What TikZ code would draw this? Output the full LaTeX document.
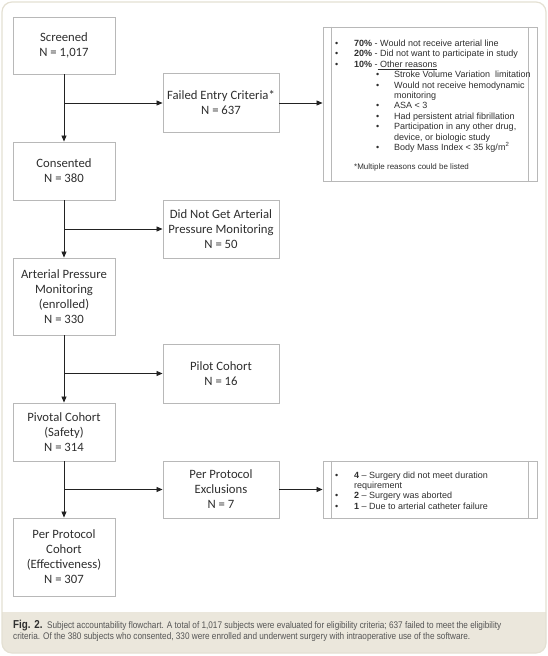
\documentclass[tikz,border=0pt]{standalone}
\usepackage{fontspec}
\usetikzlibrary{arrows.meta}
\newfontfamily\boxfont{Carlito}
\newfontfamily\notefont{Liberation Sans}
\newfontfamily\capfont[FakeStretch=0.855]{Liberation Sans}
\definecolor{txt}{HTML}{2E2E2E}
\definecolor{boxline}{HTML}{B8B8B8}
\definecolor{connc}{HTML}{222222}
\definecolor{framec}{HTML}{E4E0D3}
\definecolor{capbg}{HTML}{EBE7DC}
\definecolor{captxt}{HTML}{555555}
\tikzset{
  flowbox/.style={draw=boxline, line width=0.9pt, inner sep=0pt, align=center,
    text=txt, font=\boxfont\fontsize{12.7}{15}\selectfont},
  notebox/.style={draw=boxline, line width=0.9pt, inner sep=0pt},
  conn/.style={draw=connc, line width=0.8pt},
  arr/.style={conn, -{Triangle[length=6pt,width=5pt]}},
  nl/.style={anchor=base west, inner sep=0pt, text=txt,
    font=\notefont\fontsize{9}{10.4}\selectfont},
  capl/.style={anchor=base west, inner sep=0pt, text=captxt,
    font=\capfont\fontsize{9.6}{11}\selectfont},
}
\newcommand{\bulA}{\makebox[19pt][l]{\textbullet}}
\newcommand{\bulB}{\makebox[18pt][l]{\textbullet}}
\begin{document}
\begin{tikzpicture}[x=1pt,y=-1pt]
\useasboundingbox (0,0) rectangle (548,656);
% outer frame and caption band
\begin{scope}
  \clip[rounded corners=10pt] (2,2) rectangle (546,653);
  \fill[capbg] (0,612) rectangle (548,656);
\end{scope}
\draw[framec, line width=1.2pt, rounded corners=10pt] (2,2) rectangle (546,653);

% left column
\node[flowbox, minimum width=102pt, minimum height=57pt] (screened) at (64,45.5) {Screened\\N = 1,017};
\node[flowbox, minimum width=102pt, minimum height=58pt] (consented) at (64,171) {Consented\\N = 380};
\node[flowbox, minimum width=102pt, minimum height=77pt] (arterial) at (64,296.5) {Arterial Pressure\\Monitoring\\(enrolled)\\N = 330};
\node[flowbox, minimum width=102pt, minimum height=58pt] (pivotal) at (64,432) {Pivotal Cohort\\(Safety)\\N = 314};
\node[flowbox, minimum width=102pt, minimum height=78pt] (ppcohort) at (64,557) {Per Protocol\\Cohort\\(Effectiveness)\\N = 307};

% middle column
\node[flowbox, minimum width=116pt, minimum height=59pt] (failed) at (221,103) {Failed Entry Criteria*\\N = 637};
\node[flowbox, minimum width=116pt, minimum height=58pt] (didnot) at (221,229) {Did Not Get Arterial\\Pressure Monitoring\\N = 50};
\node[flowbox, minimum width=116pt, minimum height=59pt] (pilot) at (221,373.5) {Pilot Cohort\\N = 16};
\node[flowbox, minimum width=116pt, minimum height=57pt] (ppexcl) at (221,489.5) {Per Protocol\\Exclusions\\N = 7};

% note boxes
\node[notebox, minimum width=214pt, minimum height=154pt] (note1) at (430,104) {};
\draw[boxline, line width=0.9pt] ([xshift=9pt]note1.north west) -- ([xshift=9pt]note1.south west);
\draw[boxline, line width=0.9pt] ([xshift=-9pt]note1.north east) -- ([xshift=-9pt]note1.south east);
\node[notebox, minimum width=214pt, minimum height=57pt] (note2) at (430,489.5) {};
\draw[boxline, line width=0.9pt] ([xshift=9pt]note2.north west) -- ([xshift=9pt]note2.south west);
\draw[boxline, line width=0.9pt] ([xshift=-9pt]note2.north east) -- ([xshift=-9pt]note2.south east);

% note 1 text
\node[nl] (n1a) at (335,46.5) {\bulA\textbf{70\%} - Would not receive arterial line};
\node[nl] (n1b) at (335,56.9) {\bulA\textbf{20\%} - Did not want to participate in study};
\node[nl] (n1c) at (335,67.3) {\bulA\textbf{10\%} -\underline{\ Other reasons}};
\node[nl] (n1d) at (376,77.7) {\bulB Stroke Volume Variation\ \ limitation};
\node[nl] (n1e) at (376,88.1) {\bulB Would not receive hemodynamic};
\node[nl] (n1f) at (394,98.5) {monitoring};
\node[nl] (n1g) at (376,108.9) {\bulB ASA < 3};
\node[nl] (n1h) at (376,119.3) {\bulB Had persistent atrial fibrillation};
\node[nl] (n1i) at (376,129.7) {\bulB Participation in any other drug,};
\node[nl] (n1j) at (394,140.1) {device, or biologic study};
\node[nl] (n1k) at (376,150.5) {\bulB Body Mass Index < 35 kg/m\textsuperscript{2}};
\node[nl, font=\notefont\fontsize{8}{10}\selectfont] (n1l) at (354,169) {*Multiple reasons could be listed};

% note 2 text
\node[nl] (n2a) at (335,478) {\bulA\textbf{4} – Surgery did not meet duration};
\node[nl] (n2b) at (354,488.4) {requirement};
\node[nl] (n2c) at (335,498.8) {\bulA\textbf{2} – Surgery was aborted};
\node[nl] (n2d) at (335,509.2) {\bulA\textbf{1} – Due to arterial catheter failure};

% connectors
\draw[arr] (screened.south) -- (consented.north);
\draw[arr] (screened.south |- failed.west) -- (failed.west);
\draw[arr] (failed.east) -- (failed.east -| note1.west);
\draw[arr] (consented.south) -- (arterial.north);
\draw[arr] (consented.south |- didnot.west) -- (didnot.west);
\draw[arr] (arterial.south) -- (pivotal.north);
\draw[arr] (arterial.south |- pilot.west) -- (pilot.west);
\draw[arr] (pivotal.south) -- (ppcohort.north);
\draw[arr] (pivotal.south |- ppexcl.west) -- (ppexcl.west);
\draw[arr] (ppexcl.east) -- (ppexcl.east -| note2.west);

% caption
\node[capl] (cap1) at (13,628) {{\color{txt}\textbf{\fontsize{11.5}{11}\selectfont Fig. 2.}}\ \ Subject accountability flowchart. A total of 1,017 subjects were evaluated for eligibility criteria; 637 failed to meet the eligibility};
\node[capl] (cap2) at (13,639) {criteria. Of the 380 subjects who consented, 330 were enrolled and underwent surgery with intraoperative use of the software.};
\end{tikzpicture}
\end{document}
